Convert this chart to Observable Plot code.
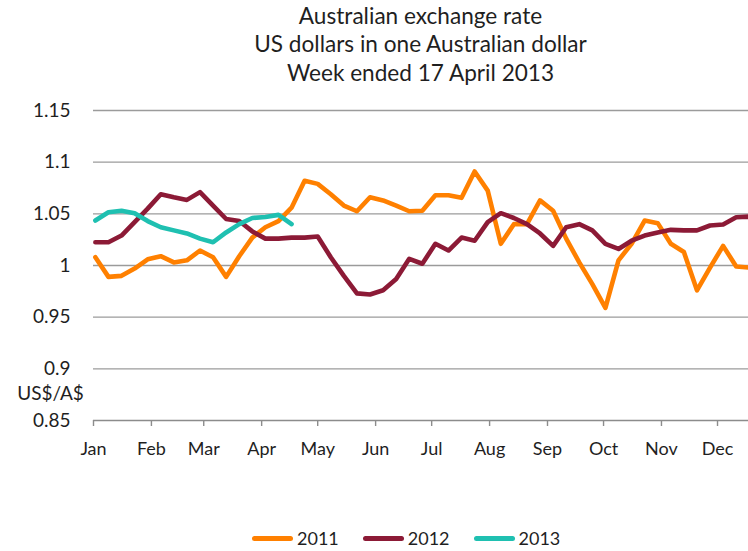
<!DOCTYPE html>
<html>
<head>
<meta charset="utf-8">
<script src="https://cdn.jsdelivr.net/npm/d3@7"></script>
<script src="https://cdn.jsdelivr.net/npm/@observablehq/plot@0.6"></script>
<style>
  html, body { margin: 0; padding: 0; background: #fff; }
  body { width: 748px; height: 551px; overflow: hidden; font-family: Lato, "Open Sans", sans-serif; color: #1f1f1f; }
  #title { box-sizing: border-box; height: 95px; padding-top: 2px; padding-left: 93px; width: 748px;
           text-align: center; font-size: 22.6px; line-height: 28.3px; }
  #legend { margin-top: 51px; padding-left: 252px; display: flex; align-items: center; height: 24px; font-size: 18px; line-height: 24px; }
  .item { display: flex; align-items: center; margin-right: 24px; }
  .swatch { width: 41px; height: 5px; border-radius: 3px; margin-right: 4px; }
</style>
</head>
<body>
<div id="title"></div>
<div id="chart"></div>
<div id="legend"></div>
<script>
// ---- Data (weekly observations, week 0 = first week of January) ----
const titleLines = ["Australian exchange rate", "US dollars in one Australian dollar", "Week ended 17 April 2013"];
const yLabel = "US$/A$";
const years = ["2011", "2012", "2013"];
const colors = ["#ff8000", "#8c1a36", "#1fc0b1"];
const monthLabels = ["Jan","Feb","Mar","Apr","May","Jun","Jul","Aug","Sep","Oct","Nov","Dec"];
const yTicks = [0.85, 0.9, 0.95, 1, 1.05, 1.1, 1.15];
const gridValues = [0.9, 0.95, 1, 1.05, 1.1, 1.15];

const values2011 = [1.008, 0.989, 0.990, 0.997, 1.006, 1.009, 1.003, 1.005, 1.0145, 1.008,
  0.989, 1.009, 1.027, 1.037, 1.043, 1.056, 1.082, 1.079, 1.069, 1.058,
  1.0525, 1.066, 1.063, 1.058, 1.0525, 1.053, 1.068, 1.068, 1.0655, 1.091,
  1.0725, 1.021, 1.040, 1.040, 1.063, 1.053, 1.026, 1.003, 0.982, 0.959,
  1.005, 1.021, 1.0435, 1.041, 1.021, 1.013, 0.976, 0.998, 1.019, 0.999,
  0.998, 1.006];
const values2012 = [1.0225, 1.0225, 1.029, 1.042, 1.055, 1.069, 1.066, 1.0635, 1.071, 1.058,
  1.045, 1.043, 1.033, 1.026, 1.026, 1.027, 1.027, 1.028, 1.008, 0.990,
  0.973, 0.972, 0.976, 0.987, 1.0065, 1.0017, 1.021, 1.0145, 1.027, 1.024,
  1.042, 1.0506, 1.046, 1.040, 1.031, 1.019, 1.037, 1.040, 1.034, 1.021,
  1.016, 1.024, 1.029, 1.032, 1.0345, 1.034, 1.034, 1.0387, 1.0397, 1.0467,
  1.0474, 1.035];
const values2013 = [1.0435, 1.0515, 1.053, 1.0506, 1.043, 1.037, 1.034, 1.031, 1.026, 1.0225,
  1.032, 1.040, 1.046, 1.047, 1.049, 1.040];

// ---- Build table ----
const weekDate = i => new Date(Date.UTC(2013, 0, 2 + 7 * i));
const series = [values2011, values2012, values2013];
const rows = series.flatMap((vals, k) => vals.map((v, i) => ({year: years[k], date: weekDate(i), value: v})));
const monthStarts = monthLabels.map((m, i) => new Date(Date.UTC(2013, i, 1)));

// ---- Title ----
document.getElementById("title").innerHTML = titleLines.map(t => `<div>${t}</div>`).join("");

// ---- Chart ----
const chart = Plot.plot({
  width: 748,
  height: 380,
  marginTop: 15,
  marginBottom: 55,
  marginLeft: 93,
  marginRight: 0,
  style: {fontFamily: "Lato, 'Open Sans', sans-serif", fontSize: "18px", color: "#1f1f1f", background: "#fff"},
  x: {type: "utc", domain: [new Date(Date.UTC(2013, 0, 1)), new Date(Date.UTC(2013, 11, 17, 14))]},
  y: {domain: [0.85, 1.15]},
  color: {domain: years, range: colors},
  marks: [
    Plot.ruleY(gridValues, {stroke: "#9b9b9b", strokeWidth: 1.4}),
    Plot.ruleY([0.85], {stroke: "#8c8c8c", strokeWidth: 1.4}),
    Plot.axisX({ticks: monthStarts, tickSize: 6, tickFormat: () => "", label: null, stroke: "#8c8c8c", strokeWidth: 1.4}),
    Plot.axisX({ticks: monthStarts, tickSize: 0, tickPadding: 22, label: null, tickFormat: d => monthLabels[d.getUTCMonth()], fontSize: 18, fill: "#1f1f1f"}),
    Plot.axisY({ticks: yTicks, tickSize: 0, tickPadding: 23, label: null, tickFormat: d => String(d), fontSize: 19, fill: "#1f1f1f"}),
    Plot.text([yLabel], {frameAnchor: "bottom-left", text: d => d, dx: -43, dy: -21, textAnchor: "middle", fontSize: 19, fill: "#1f1f1f"}),
    Plot.line(rows, {x: "date", y: "value", z: "year", stroke: "year", strokeWidth: 4.6, strokeLinejoin: "round", strokeLinecap: "round", clip: true})
  ]
});
document.getElementById("chart").appendChild(chart);

// ---- Legend ----
document.getElementById("legend").innerHTML = years.map((y, k) =>
  `<div class="item"><span class="swatch" style="background:${colors[k]}"></span><span>${y}</span></div>`).join("");
</script>
</body>
</html>
